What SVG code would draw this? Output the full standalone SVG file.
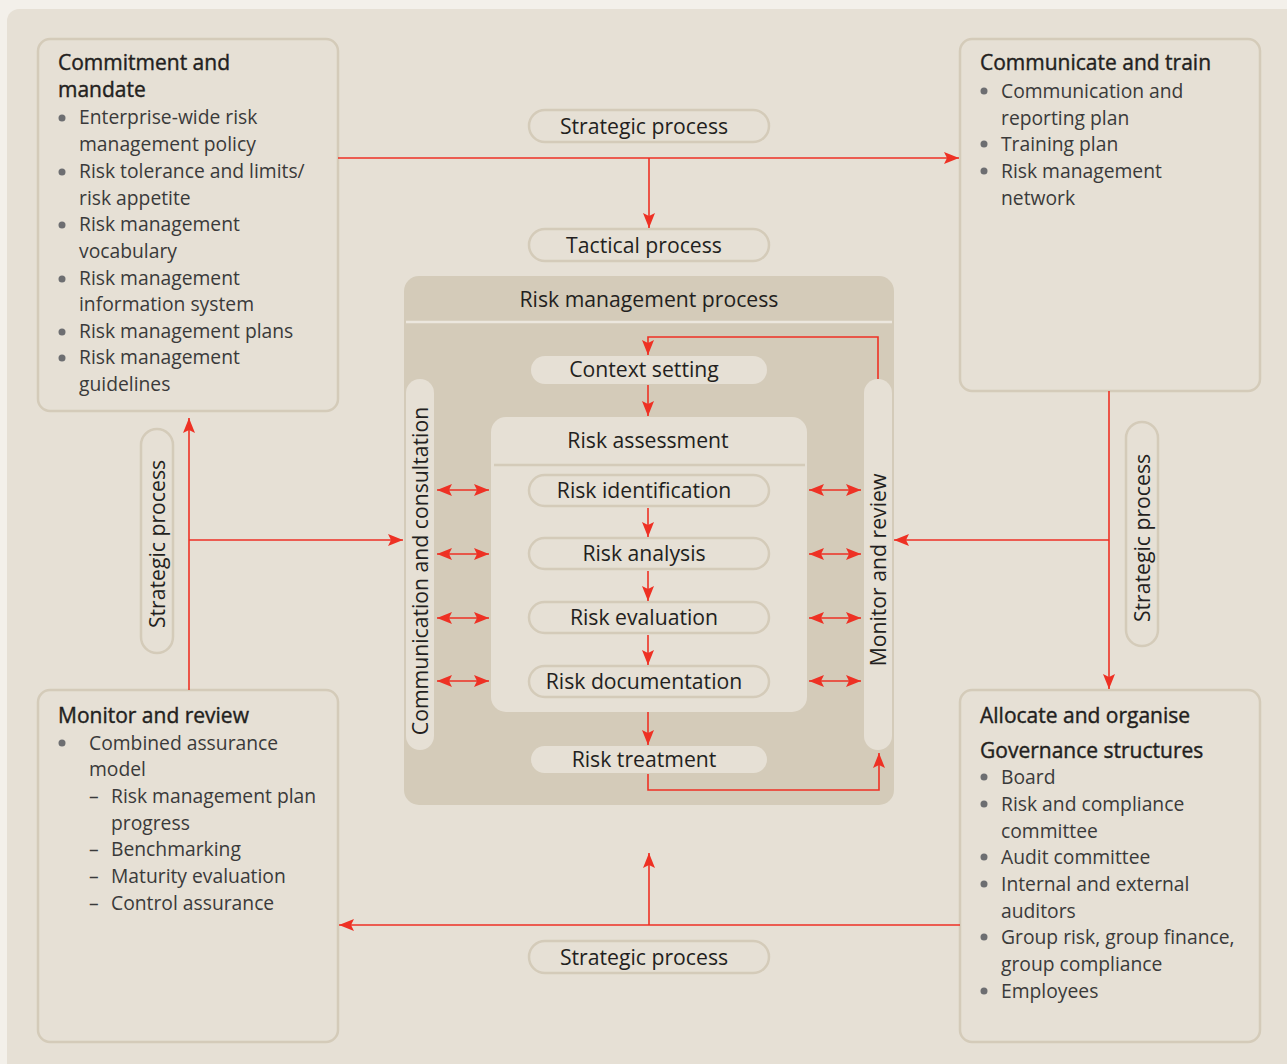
<svg xmlns="http://www.w3.org/2000/svg" width="1287" height="1064" viewBox="0 0 1287 1064">
<defs>
<style>
.box{fill:#e6e0d5;stroke:#d4cbb9;stroke-width:2.5}
.pill{fill:#e6e0d5;stroke:#d4cbb9;stroke-width:2.5}
.pillf{fill:#e6e0d5}
.t{font-family:"Open Sans","Noto Sans","DejaVu Sans",sans-serif;font-size:19.3px;fill:#3a3a3a}
.h{font-family:"Open Sans","Noto Sans","DejaVu Sans",sans-serif;font-size:21px;fill:#231f20;stroke:#231f20;stroke-width:0.4}
.c{font-family:"Open Sans","Noto Sans","DejaVu Sans",sans-serif;font-size:21.2px;fill:#231f20;text-anchor:middle}
.b{fill:#6d6e71}
.ln{fill:none;stroke:#ee3124;stroke-width:1.6}
</style>
<marker id="ah" viewBox="0 0 15 12" refX="15" refY="6" markerWidth="15" markerHeight="12" markerUnits="userSpaceOnUse" orient="auto-start-reverse">
<path d="M0,0 L15,6 L0,12 L3,6 Z" fill="#ee3124"/>
</marker>
</defs>
<rect width="1287" height="1064" fill="#f3f0ea"/>
<rect x="7" y="9" width="1300" height="1080" rx="12" fill="#e6e0d5"/>

<g id="commitment">
<rect class="box" x="38" y="39" width="300" height="372" rx="12"/>
<text class="h" x="58" y="70">Commitment and</text>
<text class="h" x="58" y="97">mandate</text>
<circle class="b" cx="62" cy="118" r="3.5"/>
<text class="t" x="79" y="124">Enterprise-wide risk</text>
<text class="t" x="79" y="151">management policy</text>
<circle class="b" cx="62" cy="172" r="3.5"/>
<text class="t" x="79" y="178">Risk tolerance and limits/</text>
<text class="t" x="79" y="205">risk appetite</text>
<circle class="b" cx="62" cy="225" r="3.5"/>
<text class="t" x="79" y="231">Risk management</text>
<text class="t" x="79" y="258">vocabulary</text>
<circle class="b" cx="62" cy="279" r="3.5"/>
<text class="t" x="79" y="285">Risk management</text>
<text class="t" x="79" y="311">information system</text>
<circle class="b" cx="62" cy="332" r="3.5"/>
<text class="t" x="79" y="338">Risk management plans</text>
<circle class="b" cx="62" cy="358" r="3.5"/>
<text class="t" x="79" y="364">Risk management</text>
<text class="t" x="79" y="391">guidelines</text>
</g>

<g id="communicate">
<rect class="box" x="960" y="39" width="300" height="352" rx="12"/>
<text class="h" x="980" y="70">Communicate and train</text>
<circle class="b" cx="984" cy="91" r="3.5"/>
<text class="t" x="1001" y="98">Communication and</text>
<text class="t" x="1001" y="125">reporting plan</text>
<circle class="b" cx="984" cy="144" r="3.5"/>
<text class="t" x="1001" y="151">Training plan</text>
<circle class="b" cx="984" cy="171" r="3.5"/>
<text class="t" x="1001" y="178">Risk management</text>
<text class="t" x="1001" y="205">network</text>
</g>

<g id="monitor">
<rect class="box" x="38" y="690" width="300" height="352" rx="12"/>
<text class="h" x="58" y="723">Monitor and review</text>
<circle class="b" cx="62" cy="743" r="3.5"/>
<text class="t" x="89" y="750">Combined assurance</text>
<text class="t" x="89" y="776">model</text>
<text class="t" x="89" y="803">–</text>
<text class="t" x="111" y="803">Risk management plan</text>
<text class="t" x="111" y="830">progress</text>
<text class="t" x="89" y="856">–</text>
<text class="t" x="111" y="856">Benchmarking</text>
<text class="t" x="89" y="883">–</text>
<text class="t" x="111" y="883">Maturity evaluation</text>
<text class="t" x="89" y="910">–</text>
<text class="t" x="111" y="910">Control assurance</text>
</g>

<g id="allocate">
<rect class="box" x="960" y="690" width="300" height="352" rx="12"/>
<text class="h" x="980" y="723">Allocate and organise</text>
<text class="h" x="980" y="758">Governance structures</text>
<circle class="b" cx="984" cy="777" r="3.5"/>
<text class="t" x="1001" y="784">Board</text>
<circle class="b" cx="984" cy="804" r="3.5"/>
<text class="t" x="1001" y="811">Risk and compliance</text>
<text class="t" x="1001" y="838">committee</text>
<circle class="b" cx="984" cy="857" r="3.5"/>
<text class="t" x="1001" y="864">Audit committee</text>
<circle class="b" cx="984" cy="884" r="3.5"/>
<text class="t" x="1001" y="891">Internal and external</text>
<text class="t" x="1001" y="918">auditors</text>
<circle class="b" cx="984" cy="937" r="3.5"/>
<text class="t" x="1001" y="944">Group risk, group finance,</text>
<text class="t" x="1001" y="971">group compliance</text>
<circle class="b" cx="984" cy="991" r="3.5"/>
<text class="t" x="1001" y="998">Employees</text>
</g>

<g id="strategic-top">
<rect class="pill" x="529" y="110" width="240" height="32" rx="16"/>
<text class="c" x="644" y="134">Strategic process</text>
</g>
<g id="tactical">
<rect class="pill" x="529" y="229" width="240" height="32" rx="16"/>
<text class="c" x="644" y="253">Tactical process</text>
</g>
<g id="strategic-bottom">
<rect class="pill" x="529" y="941" width="240" height="32" rx="16"/>
<text class="c" x="644" y="965">Strategic process</text>
</g>
<g id="strategic-left">
<rect class="pill" x="141" y="429" width="32" height="224" rx="16"/>
<text class="c" transform="translate(165,544) rotate(-90)">Strategic process</text>
</g>
<g id="strategic-right">
<rect class="pill" x="1126" y="422" width="32" height="224" rx="16"/>
<text class="c" transform="translate(1150,538) rotate(-90)">Strategic process</text>
</g>

<g id="process">
<rect x="404" y="276" width="490" height="529" rx="15" fill="#d4cbb9"/>
<line x1="406" y1="322" x2="892" y2="322" stroke="#ece7de" stroke-width="2.5"/>
<text class="c" x="649" y="307">Risk management process</text>
</g>
<g id="comm-consult">
<rect class="pillf" x="406" y="379" width="28" height="371" rx="14"/>
<text class="c" transform="translate(428,571) rotate(-90)">Communication and consultation</text>
</g>
<g id="monitor-review">
<rect class="pillf" x="864" y="379" width="28" height="371" rx="14"/>
<text class="c" transform="translate(886,570) rotate(-90)">Monitor and review</text>
</g>
<g id="context">
<rect class="pillf" x="531" y="356" width="236" height="28" rx="14"/>
<text class="c" x="644" y="377">Context setting</text>
</g>
<g id="assessment">
<rect class="pillf" x="491" y="417" width="316" height="295" rx="15"/>
<line x1="494" y1="465" x2="805" y2="465" stroke="#d4cbb9" stroke-width="2.5"/>
<text class="c" x="648" y="448">Risk assessment</text>
</g>
<g id="identification">
<rect class="pill" x="529" y="475" width="240" height="31" rx="15.5"/>
<text class="c" x="644" y="498">Risk identification</text>
</g>
<g id="analysis">
<rect class="pill" x="529" y="538" width="240" height="31" rx="15.5"/>
<text class="c" x="644" y="561">Risk analysis</text>
</g>
<g id="evaluation">
<rect class="pill" x="529" y="602" width="240" height="31" rx="15.5"/>
<text class="c" x="644" y="625">Risk evaluation</text>
</g>
<g id="documentation">
<rect class="pill" x="529" y="666" width="240" height="31" rx="15.5"/>
<text class="c" x="644" y="689">Risk documentation</text>
</g>
<g id="treatment">
<rect class="pillf" x="531" y="746" width="236" height="27" rx="13.5"/>
<text class="c" x="644" y="767">Risk treatment</text>
</g>

<g id="connectors">
<path class="ln" d="M338,158 H959" marker-end="url(#ah)"/>
<path class="ln" d="M649,158 V228" marker-end="url(#ah)"/>
<path class="ln" d="M878,379 V337 H648 V355" marker-end="url(#ah)"/>
<path class="ln" d="M648,385 V416" marker-end="url(#ah)"/>
<path class="ln" d="M648,508 V537" marker-end="url(#ah)"/>
<path class="ln" d="M648,571 V601" marker-end="url(#ah)"/>
<path class="ln" d="M648,635 V665" marker-end="url(#ah)"/>
<path class="ln" d="M648,712 V745" marker-end="url(#ah)"/>
<path class="ln" d="M648,774 V790 H879 V753" marker-end="url(#ah)"/>
<path class="ln" d="M437,490 H489" marker-start="url(#ah)" marker-end="url(#ah)"/>
<path class="ln" d="M437,554 H489" marker-start="url(#ah)" marker-end="url(#ah)"/>
<path class="ln" d="M437,618 H489" marker-start="url(#ah)" marker-end="url(#ah)"/>
<path class="ln" d="M437,681 H489" marker-start="url(#ah)" marker-end="url(#ah)"/>
<path class="ln" d="M809,490 H861" marker-start="url(#ah)" marker-end="url(#ah)"/>
<path class="ln" d="M809,554 H861" marker-start="url(#ah)" marker-end="url(#ah)"/>
<path class="ln" d="M809,618 H861" marker-start="url(#ah)" marker-end="url(#ah)"/>
<path class="ln" d="M809,681 H861" marker-start="url(#ah)" marker-end="url(#ah)"/>
<path class="ln" d="M189,690 V418" marker-end="url(#ah)"/>
<path class="ln" d="M189,540 H403" marker-end="url(#ah)"/>
<path class="ln" d="M1109,391 V689" marker-end="url(#ah)"/>
<path class="ln" d="M1109,540 H894" marker-end="url(#ah)"/>
<path class="ln" d="M960,925 H339" marker-end="url(#ah)"/>
<path class="ln" d="M649,925 V853" marker-end="url(#ah)"/>
</g>
</svg>
